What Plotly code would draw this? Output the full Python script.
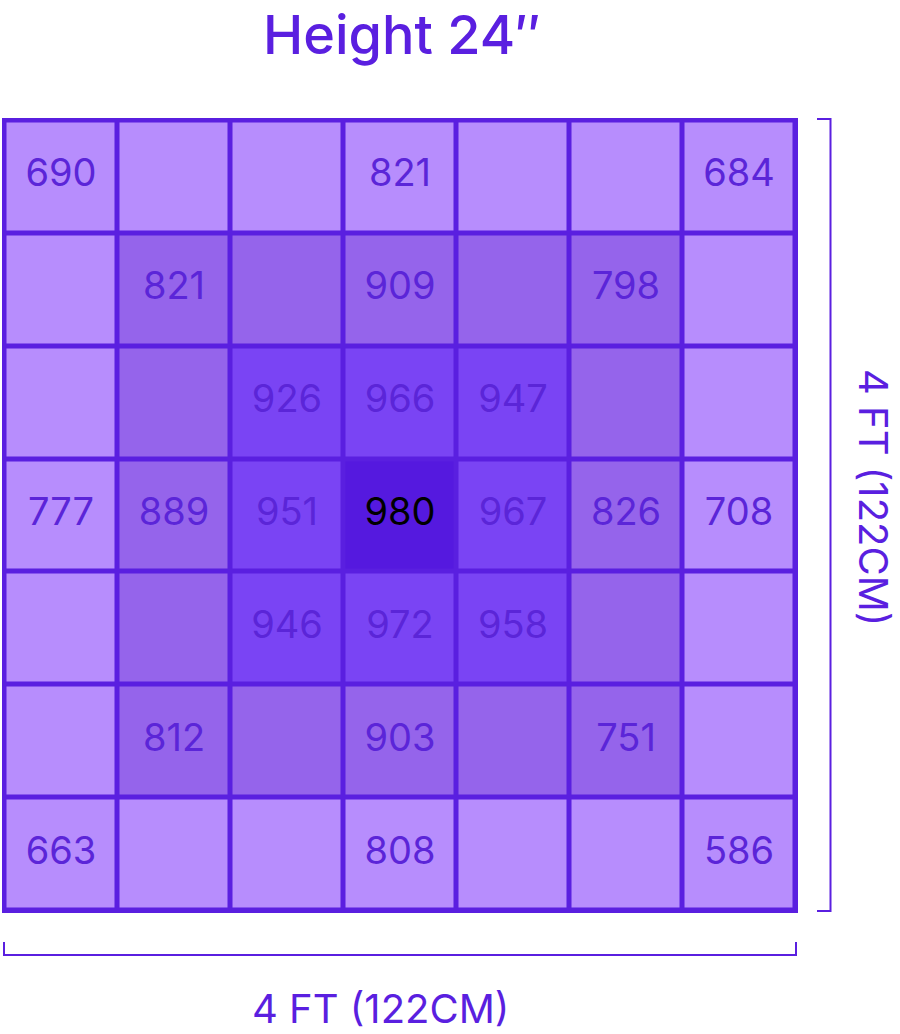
import plotly.graph_objects as go

# ---- data ----
rows = [0, 1, 2, 3, 4, 5, 6]
cols = [0, 1, 2, 3, 4, 5, 6]
# PAR readings (None = no reading shown)
values = [
    [690, None, None, 821, None, None, 684],
    [None, 821, None, 909, None, 798, None],
    [None, None, 926, 966, 947, None, None],
    [777, 889, 951, 980, 967, 826, 708],
    [None, None, 946, 972, 958, None, None],
    [None, 812, None, 903, None, 751, None],
    [663, None, None, 808, None, None, 586],
]
# intensity zone of each cell (0 = outer, 3 = centre)
zones = [
    [0, 0, 0, 0, 0, 0, 0],
    [0, 1, 1, 1, 1, 1, 0],
    [0, 1, 2, 2, 2, 1, 0],
    [0, 1, 2, 3, 2, 1, 0],
    [0, 1, 2, 2, 2, 1, 0],
    [0, 1, 1, 1, 1, 1, 0],
    [0, 0, 0, 0, 0, 0, 0],
]
title_text = "Height 24\u2033"
dim_label = "4 FT (122CM)"

# ---- style ----
W, H = 900, 1034
ML, MT = 2, 118
PW, PH = 796, 795
MR = W - ML - PW
MB = H - MT - PH
GAP = 5
LINE = "#5A1FE0"
TEXT = "#5B25D8"
zone_colors = ["#B78DFD", "#9564EB", "#7A44F4", "#5519DF"]
FONT = "Inter"

def px(x):
    return (x - ML) / PW

def py(y):
    return 1 - (y - MT) / PH

dx = (GAP / 2) / ((PW - GAP) / 7)
dy = (GAP / 2) / ((PH - GAP) / 7)

fig = go.Figure()
n = len(zone_colors) - 1
fig.add_trace(go.Heatmap(
    z=zones, x=cols, y=rows,
    colorscale=[[i / n, c] for i, c in enumerate(zone_colors)],
    zmin=0, zmax=n, showscale=False, xgap=GAP, ygap=GAP, hoverinfo="skip",
))

tx, ty, tt, tc = [], [], [], []
for r in rows:
    for c in cols:
        v = values[r][c]
        if v is not None:
            tx.append(c); ty.append(r); tt.append(str(v))
            tc.append("#000000" if zones[r][c] == 3 else TEXT)
fig.add_trace(go.Scatter(
    x=tx, y=ty, text=tt, mode="text",
    textfont=dict(family=FONT, size=38, color=tc),
    hoverinfo="skip", showlegend=False,
))

fig.update_xaxes(range=[-0.5 - dx, 6.5 + dx], visible=False, fixedrange=True)
fig.update_yaxes(range=[6.5 + dy, -0.5 - dy], visible=False, fixedrange=True)

shapes = [
    dict(type="path", xref="paper", yref="paper",
         path=f"M {px(817)},{py(119)} L {px(830.5)},{py(119)} L {px(830.5)},{py(911)} L {px(817)},{py(911)}",
         line=dict(color=LINE, width=2)),
    dict(type="path", xref="paper", yref="paper",
         path=f"M {px(4)},{py(942)} L {px(4)},{py(955)} L {px(796)},{py(955)} L {px(796)},{py(942)}",
         line=dict(color=LINE, width=2)),
]

annotations = [
    dict(text=title_text, x=px(402), y=py(34), xref="paper", yref="paper",
         showarrow=False, xanchor="center", yanchor="middle",
         font=dict(family=FONT, size=54, color=LINE, weight=500)),
    dict(text=dim_label, x=px(380), y=py(1008), xref="paper", yref="paper",
         showarrow=False, xanchor="center", yanchor="middle",
         font=dict(family=FONT, size=40, color=LINE)),
    dict(text=dim_label, x=px(874), y=py(497), xref="paper", yref="paper",
         showarrow=False, xanchor="center", yanchor="middle", textangle=90,
         font=dict(family=FONT, size=40, color=LINE)),
]

fig.update_layout(
    width=W, height=H,
    margin=dict(l=ML, r=MR, t=MT, b=MB, pad=0),
    plot_bgcolor=LINE, paper_bgcolor="#FFFFFF",
    shapes=shapes, annotations=annotations, showlegend=False,
)

fig.write_html("out.html", config={"displayModeBar": False},
               post_script="document.body.style.margin='0';")
